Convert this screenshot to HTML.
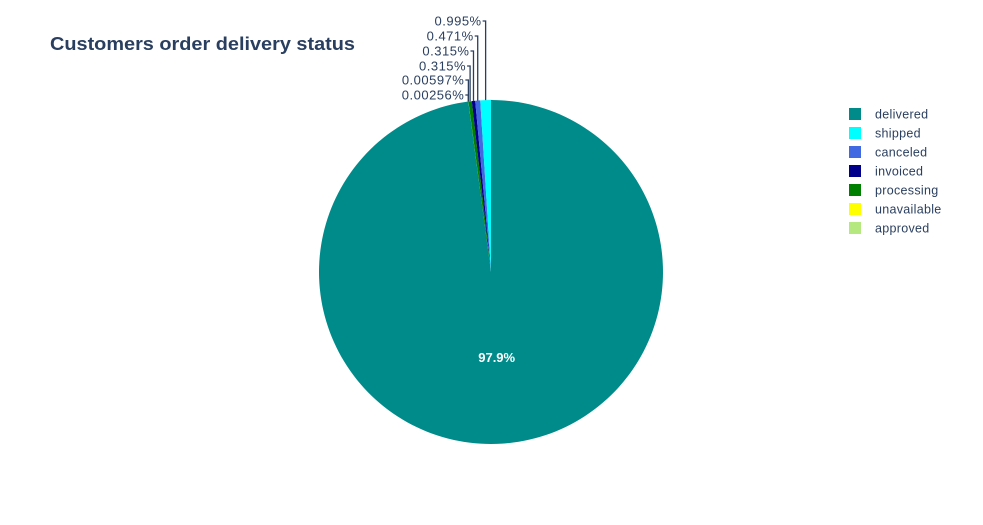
<!DOCTYPE html>
<html><head><meta charset="utf-8"><style>
body{margin:0;background:#fff;}
svg{display:block;font-family:"Liberation Sans",Arial,sans-serif;}
</style></head><body>
<svg id="chart" width="983" height="525">
<text x="50" y="50" font-size="18" font-weight="bold" fill="#2a3f5f" textLength="305" lengthAdjust="spacingAndGlyphs">Customers order delivery status</text>
<g id="slices"></g><g id="labels"></g><g id="legend"></g>
</svg>
<script>
const categories=["delivered","shipped","canceled","invoiced","processing","unavailable","approved"];
const values=[97.9,0.995,0.471,0.315,0.315,0.00597,0.00256];
const labelText=["97.9%","0.995%","0.471%","0.315%","0.315%","0.00597%","0.00256%"];
const colors=["#008b8b","#00ffff","#4169e1","#00008b","#008000","#ffff00","#b6e880"];
const NS="http://www.w3.org/2000/svg";
const cx=491,cy=272,r=172;
const total=values.reduce((a,b)=>a+b,0);
function pt(f,rad){const a=f*2*Math.PI;return [cx+rad*Math.sin(a),cy-rad*Math.cos(a)];}
const order=[0,6,5,4,3,2,1];
let acc=0;const mids={};
const gs=document.getElementById('slices');
order.forEach(i=>{
  const f0=acc/total,f1=(acc+values[i])/total;acc+=values[i];
  const p0=pt(f0,r),p1=pt(f1,r);
  const large=(f1-f0)>0.5?1:0;
  const path=document.createElementNS(NS,'path');
  path.setAttribute('d',`M${cx},${cy}L${p0[0]},${p0[1]}A${r},${r} 0 ${large} 1 ${p1[0]},${p1[1]}Z`);
  path.setAttribute('fill',colors[i]);
  
  
  gs.appendChild(path);
  mids[i]=(f0+f1)/2;
});
const gl=document.getElementById('labels');
{const p=pt(mids[0],r*0.5);
const t=document.createElementNS(NS,'text');
t.setAttribute('x',p[0]);t.setAttribute('y',p[1]+4);t.setAttribute('text-anchor','middle');
t.setAttribute('font-size','13');t.setAttribute('font-weight','bold');t.setAttribute('fill','#fff');
t.textContent=labelText[0];


gl.appendChild(t);}
const ys=[21,36,51,66,80,95];
[1,2,3,4,5,6].forEach((i,k)=>{
  const p=pt(mids[i],r);const ly=ys[k];
  const t=document.createElementNS(NS,'text');
  t.setAttribute('x',p[0]-4);t.setAttribute('y',ly+4.5);t.setAttribute('text-anchor','end');
  t.setAttribute('font-size','13');t.setAttribute('fill','#2a3f5f');t.setAttribute('letter-spacing','0.5');
  t.textContent=labelText[i];
  
  
  gl.appendChild(t);
  const l=document.createElementNS(NS,'polyline');
  l.setAttribute('points',`${p[0]-3},${ly} ${p[0]},${ly} ${p[0]},${p[1]}`);
  l.setAttribute('fill','none');l.setAttribute('stroke','#2a3f5f');l.setAttribute('stroke-width','1.3');
  
  
  gl.appendChild(l);
});
const lg=document.getElementById('legend');
categories.forEach((c,i)=>{
  const y=114+i*19;
  const g=document.createElementNS(NS,'g');
  
  
  const s=document.createElementNS(NS,'rect');
  s.setAttribute('x',849);s.setAttribute('y',y-6);s.setAttribute('width',12);s.setAttribute('height',12);
  s.setAttribute('fill',colors[i]);
  
  
  const t=document.createElementNS(NS,'text');
  t.setAttribute('x',875);t.setAttribute('y',y+4.5);t.setAttribute('font-size','12.5');t.setAttribute('fill','#2a3f5f');t.setAttribute('letter-spacing','0.3');
  t.textContent=c;
  
  
  g.appendChild(s);g.appendChild(t);lg.appendChild(g);
});
</script>
</body></html>
